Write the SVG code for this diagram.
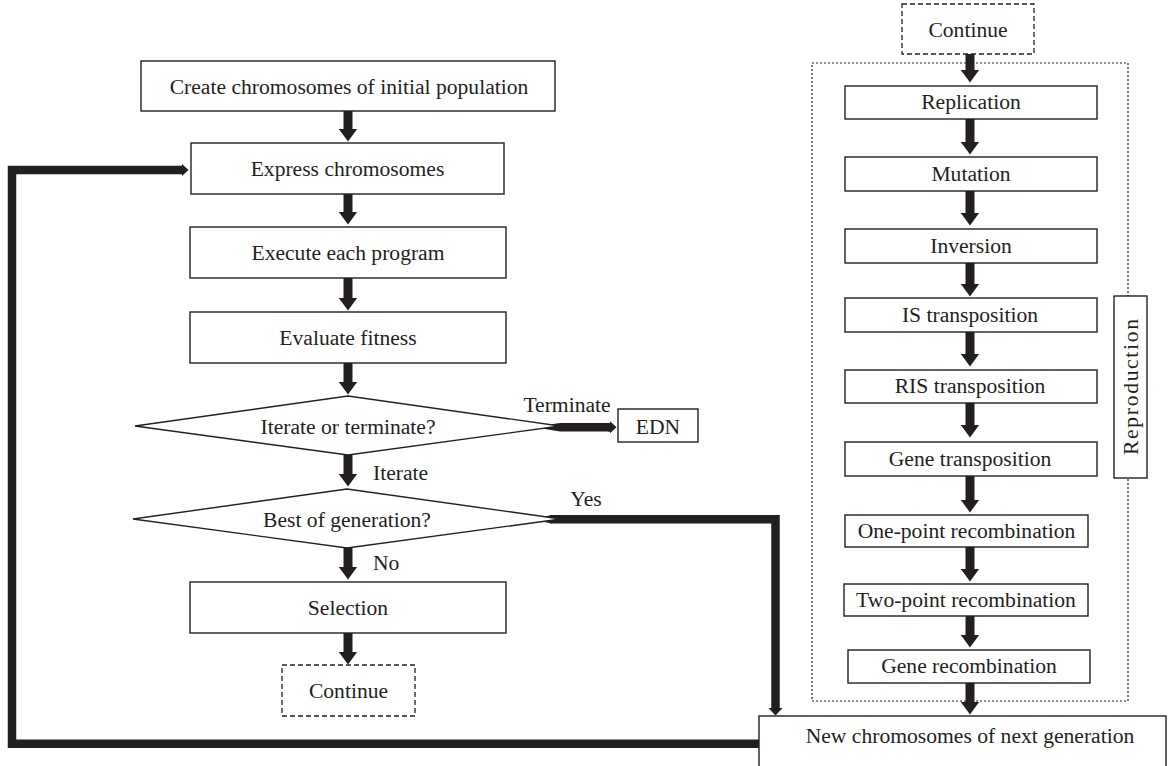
<svg xmlns="http://www.w3.org/2000/svg" width="1172" height="766" viewBox="0 0 1172 766">
<defs>
<style>
.box{fill:#fff;stroke:#231f20;stroke-width:1.4}
.dash{fill:#fff;stroke:#231f20;stroke-width:1.3;stroke-dasharray:5,3}
.dot{fill:none;stroke:#231f20;stroke-width:1.2;stroke-dasharray:2,2}
.t{font-family:"Liberation Serif","Times New Roman",serif;font-size:21.6px;fill:#231f20;text-anchor:middle}
.l{font-family:"Liberation Serif","Times New Roman",serif;font-size:21.6px;fill:#231f20}
.arr{stroke:#231f20;stroke-width:9;fill:none;marker-end:url(#ah)}
.thick{stroke:#231f20;stroke-width:8.5;fill:none;stroke-linejoin:miter}
.wedge{fill:#231f20;stroke:none}
</style>
<marker id="ah" markerUnits="userSpaceOnUse" markerWidth="14" markerHeight="19" refX="0.5" refY="9.5" orient="auto" viewBox="0 0 14 19">
<path d="M0,0 L13,9.5 L0,19 Z" fill="#231f20"/>
</marker>
<marker id="ahm" markerUnits="userSpaceOnUse" markerWidth="9" markerHeight="15" refX="0.5" refY="7.5" orient="auto" viewBox="0 0 9 15">
<path d="M0,0 L8,7.5 L0,15 Z" fill="#231f20"/>
</marker>
<marker id="ahs" markerUnits="userSpaceOnUse" markerWidth="8" markerHeight="13" refX="0.5" refY="6.5" orient="auto" viewBox="0 0 8 13">
<path d="M0,0 L7,6.5 L0,13 Z" fill="#231f20"/>
</marker>
</defs>
<rect width="1172" height="766" fill="#fff"/>

<g id="reproduction-group">
<rect class="dot" x="812" y="63" width="316" height="638"/>
</g>

<g id="connectors">
<line class="arr" x1="348" y1="111" x2="348" y2="129"/>
<line class="arr" x1="348" y1="194" x2="348" y2="212"/>
<line class="arr" x1="348" y1="278" x2="348" y2="298"/>
<line class="arr" x1="348" y1="363" x2="348" y2="382"/>
<line class="arr" x1="348" y1="455" x2="348" y2="474"/>
<line class="arr" x1="348" y1="548" x2="348" y2="567"/>
<line class="arr" x1="348" y1="633" x2="348" y2="652"/>
<polygon class="wedge" points="533,427 560,423 610,423 610,431.5 560,431.5"/>
<line x1="608" y1="427.2" x2="610" y2="427.2" stroke="#231f20" stroke-width="8.5" marker-end="url(#ahs)"/>
<polygon class="wedge" points="530,519.3 552,515 552,523.6"/>
<path class="thick" d="M550 519.3 H775.5 V708" marker-end="url(#ahm)"/>
<path class="thick" d="M759 743.8 H12 V170 H182" marker-end="url(#ahs)"/>
<line class="arr" x1="970" y1="54" x2="970" y2="70"/>
<line class="arr" x1="970" y1="119" x2="970" y2="142"/>
<line class="arr" x1="970" y1="191" x2="970" y2="213"/>
<line class="arr" x1="970" y1="263" x2="970" y2="284"/>
<line class="arr" x1="970" y1="332" x2="970" y2="354"/>
<line class="arr" x1="970" y1="403" x2="970" y2="425"/>
<line class="arr" x1="970" y1="476" x2="970" y2="500"/>
<line class="arr" x1="970" y1="547" x2="970" y2="569"/>
<line class="arr" x1="970" y1="616" x2="970" y2="635"/>
<line class="arr" x1="970" y1="683" x2="970" y2="702"/>
<text class="l" x="567" y="412" text-anchor="middle">Terminate</text>
<text class="l" x="373" y="480">Iterate</text>
<text class="l" x="586" y="506" text-anchor="middle">Yes</text>
<text class="l" x="373" y="570">No</text>
</g>

<g id="create"><rect class="box" x="141" y="61" width="414" height="50"/><text class="t" x="349" y="93.5">Create chromosomes of initial population</text></g>
<g id="express"><rect class="box" x="191" y="143" width="313" height="51"/><text class="t" x="347.5" y="176">Express chromosomes</text></g>
<g id="execute"><rect class="box" x="190" y="227" width="316" height="51"/><text class="t" x="348" y="260">Execute each program</text></g>
<g id="evaluate"><rect class="box" x="190" y="312" width="316" height="51"/><text class="t" x="348" y="345">Evaluate fitness</text></g>
<g id="iterate-decision"><polygon class="box" points="135,426 348,396 560,426 348,455"/><text class="t" x="348" y="433.5">Iterate or terminate?</text></g>
<g id="edn"><rect class="box" x="618" y="409" width="80" height="33"/><text class="t" x="658" y="433.5">EDN</text></g>
<g id="best-decision"><polygon class="box" points="133,519 347,489 561,519 347,548"/><text class="t" x="347" y="526.5">Best of generation?</text></g>
<g id="selection"><rect class="box" x="190" y="582" width="316" height="51"/><text class="t" x="348" y="615">Selection</text></g>
<g id="continue-left"><rect class="dash" x="282" y="665" width="133" height="51"/><text class="t" x="348.5" y="697.5">Continue</text></g>

<g id="continue-right"><rect class="dash" x="902" y="4" width="132" height="50"/><text class="t" x="968" y="36.5">Continue</text></g>
<g id="replication"><rect class="box" x="845" y="86" width="252" height="33"/><text class="t" x="971" y="109">Replication</text></g>
<g id="mutation"><rect class="box" x="845" y="157" width="252" height="34"/><text class="t" x="971" y="180.5">Mutation</text></g>
<g id="inversion"><rect class="box" x="845" y="229" width="252" height="34"/><text class="t" x="971" y="252.5">Inversion</text></g>
<g id="is-transposition"><rect class="box" x="845" y="298" width="252" height="34"/><text class="t" x="970" y="321.5">IS transposition</text></g>
<g id="ris-transposition"><rect class="box" x="845" y="370" width="252" height="33"/><text class="t" x="970" y="393">RIS transposition</text></g>
<g id="gene-transposition"><rect class="box" x="845" y="442" width="252" height="34"/><text class="t" x="970" y="465.5">Gene transposition</text></g>
<g id="one-point"><rect class="box" x="845" y="515" width="243" height="32"/><text class="t" x="966.5" y="537.5">One-point recombination</text></g>
<g id="two-point"><rect class="box" x="844" y="584" width="244" height="32"/><text class="t" x="966" y="606.5">Two-point recombination</text></g>
<g id="gene-recombination"><rect class="box" x="848" y="650" width="242" height="33"/><text class="t" x="969" y="673">Gene recombination</text></g>
<g id="reproduction"><rect class="box" x="1114" y="296" width="33" height="182"/><text class="t" transform="translate(1137.5,387) rotate(-90)" x="0" y="0" textLength="136" lengthAdjust="spacing">Reproduction</text></g>
<g id="new-chromosomes"><rect class="box" x="759" y="716" width="407" height="52"/><text class="t" x="970" y="742.5">New chromosomes of next generation</text></g>
</svg>
